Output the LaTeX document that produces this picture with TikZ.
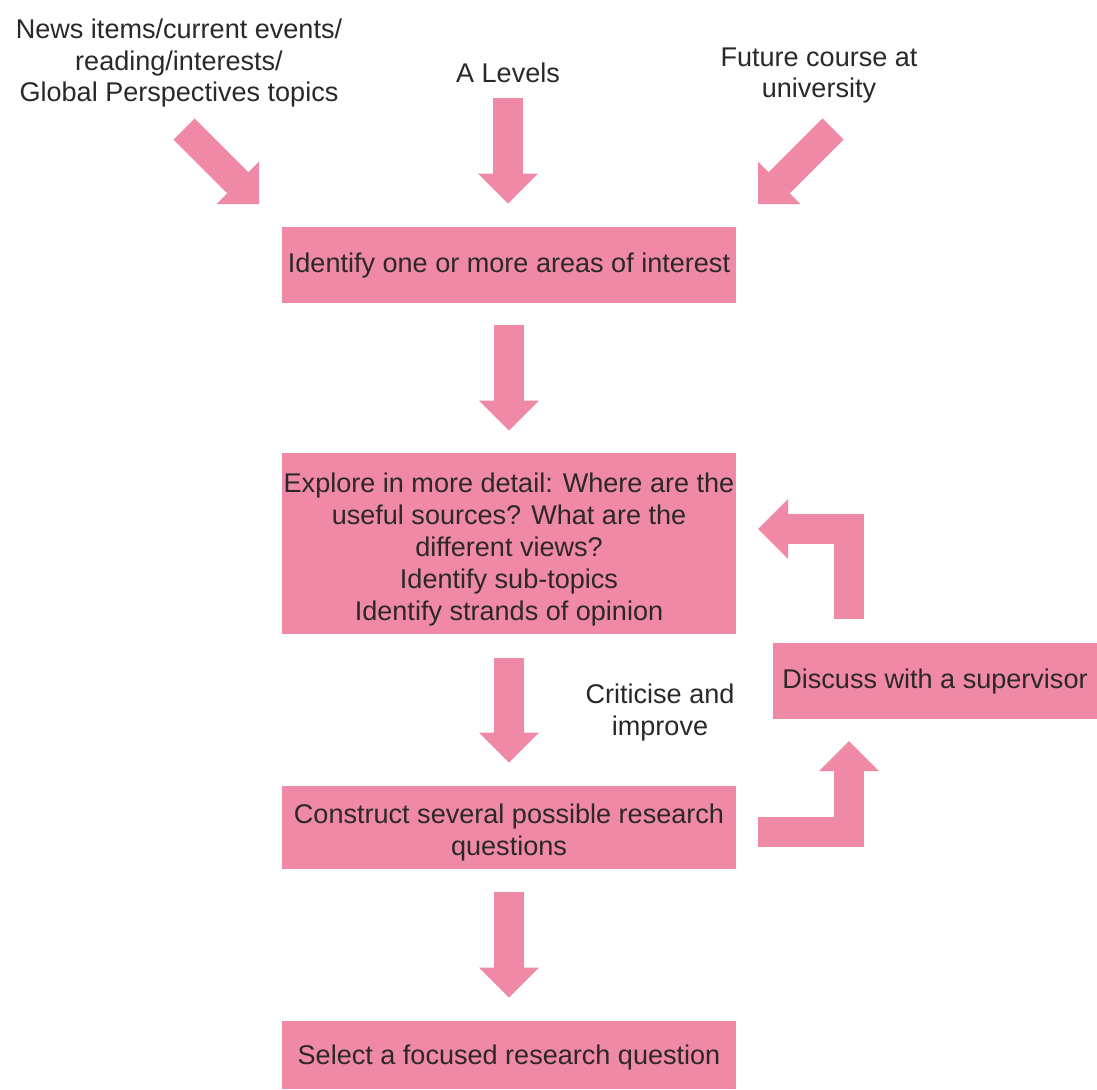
\documentclass[tikz,border=0pt]{standalone}
\usepackage{fontspec}
\setmainfont{Liberation Sans}
\usetikzlibrary{arrows.meta}
\definecolor{pinkfill}{RGB}{240,137,166}
\definecolor{textgrey}{RGB}{44,40,42}

\begin{document}
\begin{tikzpicture}[x = 0.02cm, y = -0.02cm,
                    font = \fontsize{15.4pt}{18.2pt}\selectfont,
                    box/.style = {fill = pinkfill, text = textgrey, align = center, minimum width = 9.08cm, inner sep = 0pt},
                    txt/.style = {text = textgrey, align = center, inner sep = 0pt},
                    fat/.style = {draw = pinkfill, line width = 0.6cm, -{Triangle[width = 1.2cm, length = 0.6cm, line width = 0pt]}}]
      \useasboundingbox (0, 0) rectangle (1097, 1089);
      \node [txt] (news) at (179, 63){News items/current events/\\reading/interests/\\Global Perspectives topics};
      \node [txt] (levels) at (508, 73){A Levels};
      \node [txt] (future) at (819, 75.5){Future course at\\university};
      \node [txt] (criticise) at (660, 712){Criticise and\\improve};
      \node [box, minimum height = 1.52cm] (interest) at (509, 265){Identify one or more areas of interest};
      \node [box, minimum height = 3.62cm, text depth = 0cm] (explore) at (509, 543.5){\rule{0pt}{0.52cm}Explore in more detail: Where are the\\useful sources? What are the\\different views?\\Identify sub-topics\\Identify strands of opinion};
      \node [box, minimum height = 1.66cm, text depth = 0cm] (construct) at (509, 827.5){\rule{0pt}{0.47cm}Construct several possible research\\questions};
      \node [box, minimum height = 1.36cm, text depth = 0cm] (select) at (509, 1055){Select a focused research question};
      \node [box, minimum width = 6.48cm, minimum height = 1.52cm] (discuss) at (935, 681){Discuss with a supervisor};
      \coordinate (newsTail) at (184, 129);
      \coordinate (newsTip) at (259, 204);
      \coordinate (levelsTail) at (508, 98);
      \coordinate (futureTail) at (833, 129);
      \coordinate (futureTip) at (758, 204);
      \coordinate (loopStart) at (849, 619);
      \coordinate (loopEnd) at (758, 529);
      \coordinate (backStart) at (758, 831.5);
      \coordinate (backEnd) at (849, 741);
      \draw [fat] (newsTail) -- (newsTip);
      \draw [fat, shorten >= 0.46cm] (levelsTail) -- (levelsTail |- interest.north);
      \draw [fat] (futureTail) -- (futureTip);
      \draw [fat, shorten <= 0.44cm, shorten >= 0.44cm] (interest) -- (explore);
      \draw [fat, shorten <= 0.47cm, shorten >= 0.46cm] (explore) -- (construct);
      \draw [fat, shorten <= 0.46cm, shorten >= 0.46cm] (construct) -- (select);
      \draw [fat] (loopStart) |- (loopEnd);
      \draw [fat] (backStart) -| (backEnd);
    \end{tikzpicture}
\end{document}
